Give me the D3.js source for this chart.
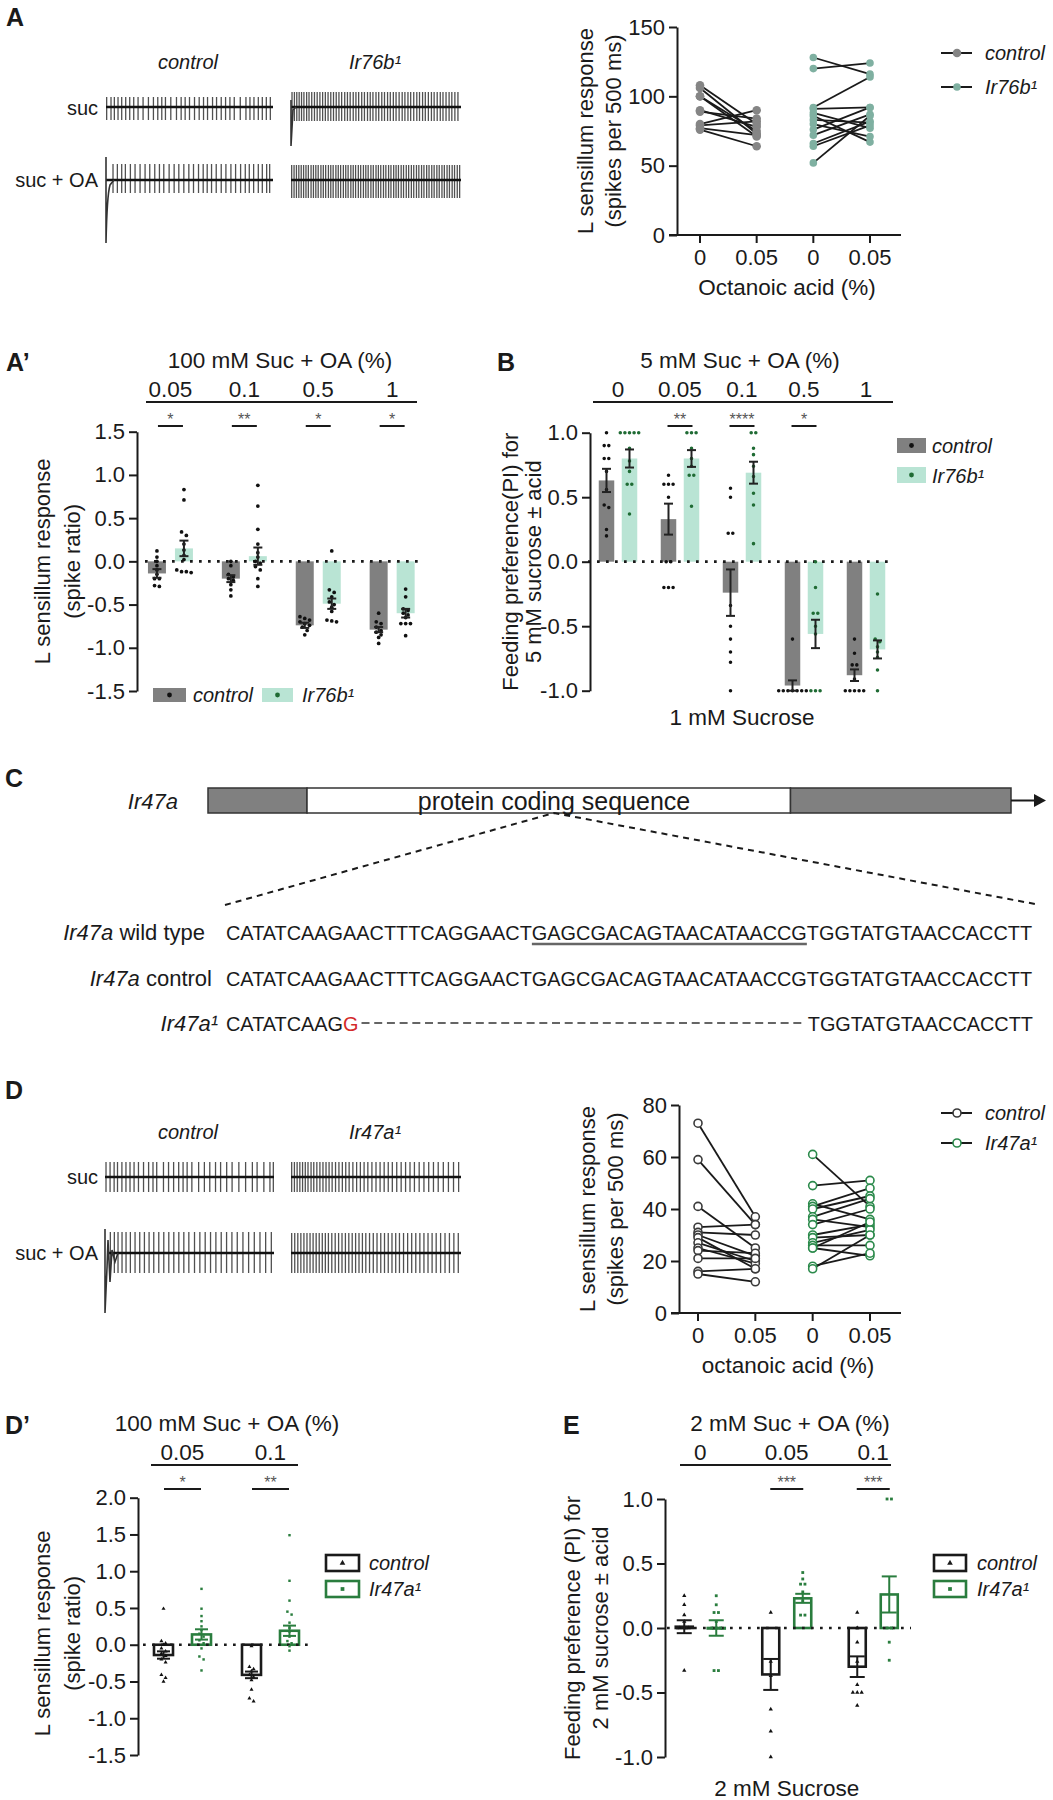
<!DOCTYPE html>
<html lang="en">
<head>
<meta charset="UTF-8">
<title>Ir76b / Ir47a acid responses</title>
<style>
  body { margin: 0; background: #fff; }
  svg text { font-family: "Liberation Sans", Arial, Helvetica, sans-serif; }
</style>
<script src="https://cdn.jsdelivr.net/npm/d3@7"></script>
</head>
<body>
<script>
// ---------- data ----------
// tip recordings: spike times (ms inside the 500 ms window)
var spkActrlSuc = [2,15,25,36,47,59,71,83,96,111,127,142,155,167,178,194,211,225,237,250,265,279,292,304,319,331,345,358,371,384,402,419,431,443,456,468,480,492];
var spkAmutSuc = [3,10,17,24,31,38,46,53,61,69,77,85,93,101,109,117,125,133,141,149,158,166,174,183,191,199,208,216,225,233,241,250,258,267,275,284,292,301,309,318,327,335,344,352,361,370,378,387,395,404,413,421,430,439,447,456,465,473,482,491];
var spkActrlOA = [21,34,47,58,73,87,102,117,131,146,160,173,189,204,218,233,248,262,277,291,303,316,330,345,359,374,388,403,417,429,442,456,468,481,490];
var spkAmutOA = [2,9,16,23,30,37,44,51,59,66,73,80,88,95,102,110,117,124,132,139,146,154,161,168,176,183,190,198,205,213,220,227,235,242,250,257,264,272,279,287,294,302,309,316,324,331,339,346,354,361,369,376,384,391,399,406,414,421,429,436,444,451,459,466,474,481,489,496];
var spkDctrlSuc = [3,15,27,37,50,62,74,86,99,114,129,142,153,173,188,203,218,231,243,257,277,294,310,327,342,360,376,396,416,436,450,470,488,498];
var spkDmutSuc = [2,10,18,26,34,42,50,59,67,76,85,94,103,112,121,131,141,151,161,171,182,193,204,215,226,238,250,262,274,286,298,311,324,337,350,363,377,391,405,419,433,448,463,478,493];
var spkDctrlOA = [10,22,33,45,57,70,84,98,112,126,140,155,170,185,200,215,230,245,262,278,294,310,326,342,358,374,390,407,424,441,458,475,492];
var spkDmutOA = [2,11,20,29,38,47,56,65,74,83,92,101,110,120,130,140,150,160,170,180,190,200,210,220,231,242,253,264,275,286,297,308,319,331,343,355,367,379,391,403,415,427,440,453,466,479,492];

// A (right): spikes per 500 ms, paired 0 -> 0.05 % OA
var aCtrl0  = [108,106,100,100,90,89,80,79,77,76];
var aCtrl05 = [80,73,75,71,78,84,90,82,72,64];
var aMut0   = [128,120,92,91,88,86,83,80,76,72,66,64,52];
var aMut05  = [116,124,114,92,77,67,81,71,92,87,82,79,86];

// A': spike ratio, 100 mM suc + OA
var apGroups = ["0.05","0.1","0.5","1"];
var apCtrlMean = [-0.14,-0.20,-0.74,-0.79];
var apCtrlSem  = [0.05,0.04,0.03,0.03];
var apMutMean  = [0.15,0.06,-0.49,-0.60];
var apMutSem   = [0.09,0.10,0.06,0.05];
var apCtrlPts = [[0.12,0.05,0.0,-0.05,-0.1,-0.15,-0.2,-0.2,-0.28,-0.29],[0.0,-0.05,-0.15,-0.18,-0.2,-0.22,-0.27,-0.33,-0.4],[-0.64,-0.66,-0.68,-0.7,-0.72,-0.74,-0.76,-0.8,-0.85],[-0.6,-0.7,-0.72,-0.76,-0.8,-0.82,-0.85,-0.88,-0.95]];
var apMutPts = [[0.83,0.71,0.34,0.3,0.2,0.13,0.07,0.02,-0.1,-0.12,-0.12,-0.13],[0.88,0.64,0.37,0.2,0.1,0.05,0.0,-0.02,-0.06,-0.1,-0.2,-0.29],[0.12,-0.33,-0.36,-0.41,-0.47,-0.5,-0.53,-0.58,-0.68,-0.69,-0.7],[-0.32,-0.41,-0.55,-0.57,-0.6,-0.62,-0.65,-0.72,-0.72,-0.72,-0.86]];
var apStars = ["*","**","*","*"];

// B: feeding PI, 5 mM suc + OA vs 1 mM suc
var bGroups = ["0","0.05","0.1","0.5","1"];
var bCtrlMean = [0.63,0.33,-0.24,-0.96,-0.88];
var bCtrlSem  = [0.09,0.12,0.18,0.04,0.045];
var bMutMean  = [0.80,0.80,0.69,-0.56,-0.68];
var bMutSem   = [0.07,0.065,0.085,0.11,0.07];
var bCtrlPts = [[1.0,0.9,0.9,0.8,0.8,0.7,0.56,0.44,0.42,0.25,0.2],[0.67,0.6,0.6,0.6,0.5,0.0,0.0,-0.2,-0.2,-0.2],[0.57,0.5,0.22,0.22,-0.34,-0.5,-0.6,-0.7,-0.78,-1.0],[-0.6,-1,-1,-1,-1,-1,-1,-1],[-0.6,-0.71,-0.8,-0.8,-0.91,-1,-1,-1,-1,-1]];
var bMutPts = [[1,1,1,1,1,0.88,0.78,0.7,0.6,0.6,0.37],[1,1,1,0.88,0.8,0.74,0.67,0.67,0.43],[1,1,0.88,0.83,0.74,0.66,0.53,0.44,0.14],[0,-0.2,-0.4,-0.4,-0.5,-0.56,-1,-1,-1],[-0.25,-0.6,-0.62,-0.66,-0.7,-0.74,-0.84,-1]];
var bStars = ["","**","****","*",""];

// C: sequences
var seqWild = "CATATCAAGAACTTTCAGGAACTGAGCGACAGTAACATAACCGTGGTATGTAACCACCTT";
var seqMutHead = "CATATCAAG";
var seqMutIns = "G";
var seqMutTail = "TGGTATGTAACCACCTT";

// D (right): spikes per 500 ms
var dCtrl0  = [73,59,41,33,31,30,29,27,25,24,21,16,15];
var dCtrl05 = [37,34,25,34,30,22,17,20,19,23,21,17,12];
var dMut0   = [61,49,42,41,40,37,36,34,30,29,27,26,25,25,18,17];
var dMut05  = [41,51,36,48,45,44,33,40,34,30,32,26,22,35,23,30];

// D': spike ratio
var dpGroups = ["0.05","0.1"];
var dpCtrlMean = [-0.14,-0.41];
var dpCtrlSem  = [0.05,0.045];
var dpMutMean  = [0.14,0.19];
var dpMutSem   = [0.07,0.07];
var dpCtrlPts = [[0.49,0.05,0.02,0,-0.05,-0.09,-0.12,-0.15,-0.2,-0.24,-0.41,-0.45,-0.5],[-0.02,-0.3,-0.33,-0.36,-0.41,-0.44,-0.48,-0.61,-0.73,-0.77]];
var dpMutPts = [[0.76,0.49,0.39,0.32,0.25,0.2,0.15,0.11,0.06,0.02,-0.05,-0.16,-0.2,-0.35],[1.49,0.87,0.6,0.45,0.41,0.3,0.23,0.18,0.11,0.05,0.02,-0.02,-0.08]];
var dpStars = ["*","**"];

// E: feeding PI, 2 mM suc + OA vs 2 mM suc
var eGroups = ["0","0.05","0.1"];
var eCtrlMean = [0.01,-0.36,-0.30];
var eCtrlSem  = [0.05,0.12,0.08];
var eMutMean  = [0.0,0.23,0.26];
var eMutSem   = [0.06,0.035,0.14];
var eCtrlPts = [[0.25,0.18,0.1,0.05,0,0,0,-0.33],[0.12,-0.26,-0.37,-0.63,-0.8,-1.0],[0.12,0,-0.11,-0.26,-0.44,-0.5,-0.5,-0.5,-0.6]];
var eMutPts = [[0.25,0.18,0.12,0.12,0.05,0,0,0,-0.33,-0.33],[0.43,0.38,0.34,0.34,0.28,0.21,0.1,0.1],[1,1,0,0,-0.11,-0.25]];
var eStars = ["","***","***"];

// ---------- drawing ----------
var INK = "#1a1a1a";
var GRAY = "#808080", MINT = "#b9e4d4", DKGREEN = "#1f6b34", GREEN = "#2a7d3e";
var svg = d3.select("body").append("svg").attr("width", 1053).attr("height", 1800);

function addText(x, y, s, size, opt) {
    opt = opt || {};
    return svg.append("text").attr("x", x).attr("y", y).text(s)
        .attr("font-size", size)
        .attr("text-anchor", opt.anchor || "start")
        .attr("font-style", opt.italic ? "italic" : null)
        .attr("font-weight", opt.bold ? "bold" : null)
        .attr("fill", opt.fill || INK);
}
function vLabel(x, y, s, size) {
    return svg.append("text")
        .attr("transform", "translate(" + x + "," + y + ") rotate(-90)")
        .attr("text-anchor", "middle").attr("dominant-baseline", "central")
        .attr("font-size", size).attr("fill", INK).text(s);
}
function styleAxis(sel) {
    sel.attr("font-size", null).attr("font-family", null);
    sel.select(".domain").attr("stroke", INK).attr("stroke-width", 2);
    sel.selectAll(".tick line").attr("stroke", INK).attr("stroke-width", 2);
    sel.selectAll(".tick text").attr("font-size", 22).attr("fill", INK);
}
// spread dots that sit on the same height, like a scatter column
function spread(vals, y, cx, r) {
    var sorted = vals.slice().sort(function (a, b) { return b - a; });
    var out = [], cl = [];
    function flush() {
        var n = cl.length;
        cl.forEach(function (v, i) { out.push({ x: cx + (i - (n - 1) / 2) * (2 * r + 1.2), y: y(v) }); });
        cl = [];
    }
    sorted.forEach(function (v) {
        if (cl.length && Math.abs(y(v) - y(cl[0])) > 2 * r + 0.5) flush();
        cl.push(v);
    });
    flush();
    return out;
}

// panel letters
addText(6, 26, "A", 25, {bold: true});
addText(6, 371, "A\u2019", 25, {bold: true});
addText(497, 371, "B", 25, {bold: true});
addText(5, 787, "C", 25, {bold: true});
addText(5, 1099, "D", 25, {bold: true});
addText(5, 1434, "D\u2019", 25, {bold: true});
addText(563, 1434, "E", 25, {bold: true});

// ---------- recordings ----------
function trace(x0, x1, yb, spikes, up, down) {
    var xs = d3.scaleLinear().domain([0, 500]).range([x0, x1]);
    var g = svg.append("g");
    g.selectAll("line.spk").data(spikes).join("line")
        .attr("x1", function (d) { return xs(d); }).attr("x2", function (d) { return xs(d); })
        .attr("y1", yb - up).attr("y2", yb + down)
        .attr("stroke", "#505050").attr("stroke-width", 1.3);
    g.append("line").attr("x1", x0).attr("x2", x1).attr("y1", yb).attr("y2", yb)
        .attr("stroke", "#111").attr("stroke-width", 2.6);
    return g;
}
function transient(d) {
    svg.append("path").attr("d", d).attr("fill", "none").attr("stroke", "#333").attr("stroke-width", 1.6);
}
addText(188, 69, "control", 20, {anchor: "middle", italic: true});
addText(375, 69, "Ir76b\u00b9", 20, {anchor: "middle", italic: true});
addText(98, 115, "suc", 20, {anchor: "end"});
addText(98, 187, "suc + OA", 20, {anchor: "end"});
trace(106, 273, 107, spkActrlSuc, 10, 13);
trace(291, 461, 107, spkAmutSuc, 15, 14);
transient("M291,100 L291,146 L293,110 L296,107");
trace(106, 273, 180, spkActrlOA, 16, 13);
transient("M106,157 L106,243 Q107,195 110,185 L114,180");
trace(291, 461, 180, spkAmutOA, 15, 18);

addText(188, 1139, "control", 20, {anchor: "middle", italic: true});
addText(375, 1139, "Ir47a\u00b9", 20, {anchor: "middle", italic: true});
addText(98, 1184, "suc", 20, {anchor: "end"});
addText(98, 1260, "suc + OA", 20, {anchor: "end"});
trace(105, 274, 1177, spkDctrlSuc, 15, 15);
trace(291, 461, 1177, spkDmutSuc, 15, 15);
trace(107, 274, 1253, spkDctrlOA, 21, 20);
transient("M105,1229 L105,1313 L107,1268 L108,1240 L110,1282 L112,1250 L115,1262 L118,1253");
trace(291, 461, 1253, spkDmutOA, 20, 20);

// ---------- paired spike plots ----------
function pairPanel(o) {
    var y = d3.scaleLinear().domain(o.yDomain).range(o.yRange);
    var x = d3.scalePoint().domain(["c0", "c1", "m0", "m1"]).range(o.xRange);
    var g = svg.append("g");
    g.append("g").attr("transform", "translate(" + o.axisX + ",0)")
        .call(d3.axisLeft(y).tickValues(o.ticks).tickSize(8).tickSizeOuter(0).tickPadding(4))
        .call(styleAxis);
    g.append("line").attr("x1", o.axisX - 8).attr("x2", o.xEnd).attr("y1", y(0)).attr("y2", y(0))
        .attr("stroke", INK).attr("stroke-width", 2);
    x.domain().forEach(function (k, i) {
        g.append("line").attr("x1", x(k)).attr("x2", x(k)).attr("y1", y(0)).attr("y2", y(0) + 8)
            .attr("stroke", INK).attr("stroke-width", 2);
        addText(x(k), y(0) + 30, ["0", "0.05", "0", "0.05"][i], 22, {anchor: "middle"});
    });
    addText((o.axisX + o.xEnd) / 2 - 2, y(0) + 60, o.xTitle, 22.5, {anchor: "middle"});
    vLabel(o.axisX - 92, (o.yRange[0] + o.yRange[1]) / 2, "L sensillum response", 22);
    vLabel(o.axisX - 64, (o.yRange[0] + o.yRange[1]) / 2, "(spikes per 500 ms)", 22);
    o.sets.forEach(function (s, si) {
        s.before.forEach(function (v, i) {
            g.append("line").attr("x1", x(s.keys[0])).attr("x2", x(s.keys[1]))
                .attr("y1", y(v)).attr("y2", y(s.after[i]))
                .attr("stroke", INK).attr("stroke-width", 1.8);
        });
        [s.before, s.after].forEach(function (arr, j) {
            g.selectAll(null).data(arr).join("circle")
                .attr("cx", x(s.keys[j])).attr("cy", function (d) { return y(d); })
                .attr("r", s.r).attr("fill", s.fill).attr("stroke", s.stroke || "none")
                .attr("stroke-width", s.stroke ? 1.6 : 0);
        });
        var ly = o.legendY[si];
        g.append("line").attr("x1", 941).attr("x2", 972).attr("y1", ly).attr("y2", ly)
            .attr("stroke", INK).attr("stroke-width", 2);
        g.append("circle").attr("cx", 957).attr("cy", ly).attr("r", s.r)
            .attr("fill", s.fill).attr("stroke", s.stroke || "none").attr("stroke-width", s.stroke ? 1.6 : 0);
        addText(985, ly + 7, s.name, 20, {italic: true});
    });
}
pairPanel({
    yDomain: [0, 150], yRange: [235, 27], ticks: [0, 50, 100, 150], axisX: 677, xRange: [700, 870], xEnd: 901,
    xTitle: "Octanoic acid (%)", legendY: [53, 87],
    sets: [
        {name: "control", keys: ["c0", "c1"], before: aCtrl0, after: aCtrl05, r: 4.3, fill: "#858585"},
        {name: "Ir76b\u00b9", keys: ["m0", "m1"], before: aMut0, after: aMut05, r: 3.8, fill: "#7fb0a1"}
    ]
});
pairPanel({
    yDomain: [0, 80], yRange: [1313, 1105], ticks: [0, 20, 40, 60, 80], axisX: 679, xRange: [698, 870], xEnd: 901,
    xTitle: "octanoic acid (%)", legendY: [1113, 1143],
    sets: [
        {name: "control", keys: ["c0", "c1"], before: dCtrl0, after: dCtrl05, r: 4, fill: "#fff", stroke: "#3a3a3a"},
        {name: "Ir47a\u00b9", keys: ["m0", "m1"], before: dMut0, after: dMut05, r: 4, fill: "#fff", stroke: "#2b8a4b"}
    ]
});

// ---------- bar + scatter panels ----------
function barPanel(o) {
    var y = d3.scaleLinear().domain(o.yDomain).range(o.yRange);
    var x = d3.scaleBand().domain(o.groups).range(o.xRange);
    var cx = function (grp) { return x(grp) + x.bandwidth() / 2; };
    var g = svg.append("g");
    g.append("g").attr("transform", "translate(" + o.axisX + ",0)")
        .call(d3.axisLeft(y).tickValues(o.ticks).tickFormat(function (d) { return d.toFixed(1); })
            .tickSize(8).tickSizeOuter(0).tickPadding(4))
        .call(styleAxis);
    // header with concentrations
    addText(o.titleX, o.titleY, o.title, 22.5, {anchor: "middle"});
    o.groups.forEach(function (grp) { addText(cx(grp), o.titleY + 29, grp, 22.5, {anchor: "middle"}); });
    g.append("line").attr("x1", o.headX[0]).attr("x2", o.headX[1])
        .attr("y1", o.titleY + 34).attr("y2", o.titleY + 34).attr("stroke", INK).attr("stroke-width", 2);
    o.stars.forEach(function (s, i) {
        if (!s) return;
        var c = cx(o.groups[i]);
        g.append("line").attr("x1", c - o.starW / 2).attr("x2", c + o.starW / 2)
            .attr("y1", o.starY).attr("y2", o.starY).attr("stroke", INK).attr("stroke-width", 2);
        addText(c, o.starY - 1, s, 16, {anchor: "middle", fill: "#555"});
    });
    var yl = (o.yRange[0] + o.yRange[1]) / 2;
    vLabel(o.yLabX[0], yl + (o.yLabDy || 0), o.yLab[0], 22);
    vLabel(o.yLabX[1], yl + (o.yLabDy || 0), o.yLab[1], 22);
    if (o.xTitle) addText(cx(o.groups[0]) / 2 + cx(o.groups[o.groups.length - 1]) / 2, o.xTitleY, o.xTitle, 22.5, {anchor: "middle"});

    var pos = function (k, grp) { return cx(grp) + (k === 0 ? -o.offset : o.offset); };
    o.series.forEach(function (s, k) {
        o.groups.forEach(function (grp, i) {
            var m = s.mean[i];
            g.append("rect").attr("x", pos(k, grp) - o.barW / 2).attr("y", Math.min(y(0), y(m)))
                .attr("width", o.barW).attr("height", Math.max(Math.abs(y(m) - y(0)), 0.5))
                .attr("fill", s.fill).attr("stroke", s.stroke || "none").attr("stroke-width", s.stroke ? 2.6 : 0);
        });
    });
    g.append("line").attr("x1", o.zeroX[0]).attr("x2", o.zeroX[1]).attr("y1", y(0)).attr("y2", y(0))
        .attr("stroke", INK).attr("stroke-width", 2.7).attr("stroke-dasharray", "2.7,6.3");
    o.series.forEach(function (s, k) {
        o.groups.forEach(function (grp, i) {
            var pts = spread(s.pts[i], y, pos(k, grp), o.dotR);
            g.selectAll(null).data(pts).join("path")
                .attr("transform", function (d) { return "translate(" + d.x + "," + d.y + ")"; })
                .attr("d", d3.symbol().type(s.symbol).size(s.symSize))
                .attr("fill", s.dot);
        });
    });
    o.series.forEach(function (s, k) {
        o.groups.forEach(function (grp, i) {
            var c = pos(k, grp), m = s.mean[i], e = s.sem[i], col = s.err;
            g.append("line").attr("x1", c).attr("x2", c).attr("y1", y(m - e)).attr("y2", y(m + e))
                .attr("stroke", col).attr("stroke-width", 2);
            [m - e, m + e].forEach(function (v) {
                g.append("line").attr("x1", c - o.capW / 2).attr("x2", c + o.capW / 2)
                    .attr("y1", y(v)).attr("y2", y(v)).attr("stroke", col).attr("stroke-width", 2);
            });
        });
    });
}

barPanel({
    groups: apGroups, xRange: [133.5, 429.1], offset: 13.5, barW: 18, capW: 9, dotR: 1.8,
    yDomain: [-1.5, 1.5], yRange: [691, 431.7], ticks: [-1.5, -1, -0.5, 0, 0.5, 1, 1.5], axisX: 137,
    zeroX: [145, 421], title: "100 mM Suc + OA (%)", titleX: 280, titleY: 368, headX: [146, 417],
    stars: apStars, starW: 25, starY: 426,
    yLab: ["L sensillum response", "(spike ratio)"], yLabX: [42, 72],
    series: [
        {mean: apCtrlMean, sem: apCtrlSem, pts: apCtrlPts, fill: GRAY, dot: "#111", err: "#222", symbol: d3.symbolCircle, symSize: 11},
        {mean: apMutMean, sem: apMutSem, pts: apMutPts, fill: MINT, dot: "#111", err: "#222", symbol: d3.symbolCircle, symSize: 11}
    ]
});
barPanel({
    groups: bGroups, xRange: [587, 897], offset: 11.5, barW: 15.5, capW: 9, dotR: 1.7,
    yDomain: [-1, 1], yRange: [690.7, 432.7], ticks: [-1, -0.5, 0, 0.5, 1], axisX: 590,
    zeroX: [588, 893], title: "5 mM Suc + OA (%)", titleX: 740, titleY: 368, headX: [593, 893],
    stars: bStars, starW: 25, starY: 426,
    yLab: ["Feeding preference(PI) for", "5 mM sucrose \u00b1 acid"], yLabX: [510, 533],
    xTitle: "1 mM Sucrose", xTitleY: 725,
    series: [
        {mean: bCtrlMean, sem: bCtrlSem, pts: bCtrlPts, fill: GRAY, dot: "#111", err: "#222", symbol: d3.symbolCircle, symSize: 10},
        {mean: bMutMean, sem: bMutSem, pts: bMutPts, fill: MINT, dot: DKGREEN, err: "#222", symbol: d3.symbolCircle, symSize: 10}
    ]
});
barPanel({
    groups: dpGroups, xRange: [138.5, 314.5], offset: 19, barW: 19, capW: 13, dotR: 1.5,
    yDomain: [-1.5, 2], yRange: [1755, 1497.7], ticks: [-1.5, -1, -0.5, 0, 0.5, 1, 1.5, 2], axisX: 138,
    zeroX: [143, 311], title: "100 mM Suc + OA (%)", titleX: 227, titleY: 1431, headX: [151, 298],
    stars: dpStars, starW: 37, starY: 1489,
    yLab: ["L sensillum response", "(spike ratio)"], yLabX: [42, 72], yLabDy: 7,
    series: [
        {mean: dpCtrlMean, sem: dpCtrlSem, pts: dpCtrlPts, fill: "none", stroke: INK, dot: "#111", err: INK, symbol: d3.symbolTriangle, symSize: 7},
        {mean: dpMutMean, sem: dpMutSem, pts: dpMutPts, fill: "none", stroke: GREEN, dot: GREEN, err: GREEN, symbol: d3.symbolSquare, symSize: 6}
    ]
});
barPanel({
    groups: eGroups, xRange: [657, 916.5], offset: 16, barW: 17, capW: 15, dotR: 1.6,
    yDomain: [-1, 1], yRange: [1757, 1499], ticks: [-1, -0.5, 0, 0.5, 1], axisX: 665,
    zeroX: [667, 911], title: "2 mM Suc + OA (%)", titleX: 790, titleY: 1431, headX: [680, 891],
    stars: eStars, starW: 33, starY: 1489,
    yLab: ["Feeding preference (PI) for", "2 mM sucrose \u00b1 acid"], yLabX: [572, 600],
    xTitle: "2 mM Sucrose", xTitleY: 1796,
    series: [
        {mean: eCtrlMean, sem: eCtrlSem, pts: eCtrlPts, fill: "none", stroke: INK, dot: "#111", err: INK, symbol: d3.symbolTriangle, symSize: 8},
        {mean: eMutMean, sem: eMutSem, pts: eMutPts, fill: "none", stroke: GREEN, dot: GREEN, err: GREEN, symbol: d3.symbolSquare, symSize: 8}
    ]
});

// legends for bar panels
function filledKey(x, y, w, h, fill, dot, tx, name) {
    svg.append("rect").attr("x", x).attr("y", y).attr("width", w).attr("height", h).attr("fill", fill);
    svg.append("circle").attr("cx", x + w / 2).attr("cy", y + h / 2).attr("r", 2.4).attr("fill", dot);
    addText(tx, y + h - 0.5, name, 20, {italic: true});
}
function openKey(x, y, w, h, col, sym, tx, name) {
    svg.append("rect").attr("x", x).attr("y", y).attr("width", w).attr("height", h)
        .attr("fill", "none").attr("stroke", col).attr("stroke-width", 2.6);
    svg.append("path").attr("transform", "translate(" + (x + w / 2) + "," + (y + h / 2) + ")")
        .attr("d", d3.symbol().type(sym).size(14)).attr("fill", col);
    addText(tx, y + h - 1, name, 20, {italic: true});
}
filledKey(153, 688, 33, 14, GRAY, "#111", 193, "control");
filledKey(262, 688, 31, 14, MINT, DKGREEN, 302, "Ir76b\u00b9");
filledKey(897, 438, 29, 15, GRAY, "#111", 932, "control");
filledKey(897, 467, 29, 16, MINT, DKGREEN, 932, "Ir76b\u00b9");
openKey(326, 1555, 33, 16, INK, d3.symbolTriangle, 369, "control");
openKey(326, 1581, 33, 16, GREEN, d3.symbolSquare, 369, "Ir47a\u00b9");
openKey(934, 1555, 32, 16, INK, d3.symbolTriangle, 977, "control");
openKey(934, 1581, 32, 16, GREEN, d3.symbolSquare, 977, "Ir47a\u00b9");

// ---------- C: gene model and sequences ----------
var geneX = d3.scaleLinear().domain([0, 1]).range([208, 1011]);
var geneParts = [[0, 0.1233, GRAY], [0.1233, 0.7254, "#fff"], [0.7254, 1, GRAY]];
geneParts.forEach(function (p) {
    svg.append("rect").attr("x", geneX(p[0])).attr("y", 788).attr("width", geneX(p[1]) - geneX(p[0])).attr("height", 25)
        .attr("fill", p[2]).attr("stroke", "#333").attr("stroke-width", 1.5);
});
svg.append("line").attr("x1", 1011).attr("x2", 1036).attr("y1", 800.5).attr("y2", 800.5).attr("stroke", INK).attr("stroke-width", 2);
svg.append("path").attr("d", "M1034,794 L1046,800.5 L1034,807 Z").attr("fill", INK);
addText(178, 809, "Ir47a", 22, {anchor: "end", italic: true});
addText(554, 810, "protein coding sequence", 25, {anchor: "middle"});
svg.append("path").attr("d", "M225,905 L554,813 L1035,904").attr("fill", "none")
    .attr("stroke", INK).attr("stroke-width", 2).attr("stroke-dasharray", "6,5");

function rowLabel(xEnd, y, rest) {
    var t = svg.append("text").attr("x", xEnd).attr("y", y).attr("text-anchor", "end").attr("font-size", 22).attr("fill", INK);
    t.append("tspan").attr("font-style", "italic").text(rest === null ? "Ir47a\u00b9" : "Ir47a");
    if (rest !== null) t.append("tspan").text(rest);
}
rowLabel(205, 940, " wild type");
rowLabel(212, 986, " control");
rowLabel(218, 1031, null);

// pick the font size that makes a full row span the measured width
var seqX0 = 226, seqW = 807;
var wild = addText(seqX0, 940, seqWild, 21);
var seqSize = 21 * seqW / wild.node().getComputedTextLength();
wild.attr("font-size", seqSize);
var pre = wild.node().getSubStringLength(0, 23);
var mid = wild.node().getSubStringLength(23, 20);
svg.append("line").attr("x1", seqX0 + pre).attr("x2", seqX0 + pre + mid).attr("y1", 944).attr("y2", 944)
    .attr("stroke", "#666").attr("stroke-width", 2.4);
addText(seqX0, 986, seqWild, seqSize);

var mutRow = svg.append("text").attr("x", seqX0).attr("y", 1031).attr("font-size", seqSize).attr("fill", INK);
mutRow.append("tspan").text(seqMutHead);
mutRow.append("tspan").attr("fill", "#d42a2a").text(seqMutIns);
var headW = mutRow.node().getComputedTextLength();
var tail = addText(seqX0 + seqW, 1031, seqMutTail, seqSize, {anchor: "end"});
var tailW = tail.node().getComputedTextLength();
svg.append("line").attr("x1", seqX0 + headW + 3).attr("x2", seqX0 + seqW - tailW - 2)
    .attr("y1", 1023).attr("y2", 1023).attr("stroke", "#333").attr("stroke-width", 1.6)
    .attr("stroke-dasharray", "8,4.7");
</script>
</body>
</html>
